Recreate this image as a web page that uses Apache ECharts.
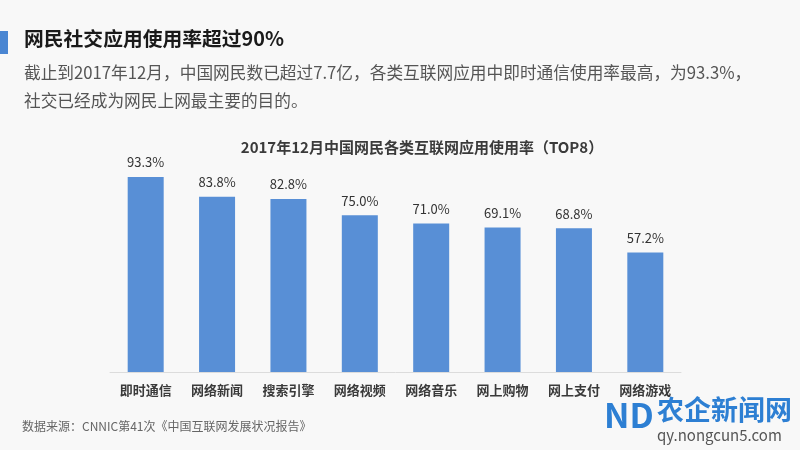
<!DOCTYPE html>
<html><head><meta charset="utf-8">
<script src="https://cdn.jsdelivr.net/npm/echarts@6/dist/echarts.min.js"></script>
<style>html,body{margin:0;padding:0;background:#f8f8f8;}#c{width:800px;height:450px;}</style>
</head><body><div id="c"></div>
<script>
var categories = ['即时通信','网络新闻','搜索引擎','网络视频','网络音乐','网上购物','网上支付','网络游戏'];
var values = [93.3, 83.8, 82.8, 75.0, 71.0, 69.1, 68.8, 57.2];
var FONT = '"Noto Sans CJK SC","Microsoft YaHei",sans-serif';
var chart = echarts.init(document.getElementById('c'));
chart.setOption({
  backgroundColor: '#f8f8f8',
  animation: false,
  textStyle: {fontFamily: FONT},
  title: {
    text: '2017年12月中国网民各类互联网应用使用率（TOP8）',
    left: 417, top: 135, textAlign: 'center',
    textStyle: {fontSize: 15, fontWeight: 'bold', color: '#3a3a3a', fontFamily: FONT}
  },
  grid: {left: 110, right: 119, top: 163, bottom: 78},
  xAxis: {
    type: 'category', data: categories,
    axisLine: {lineStyle: {color: '#dcdcdc'}},
    axisTick: {show: false},
    axisLabel: {fontSize: 13, fontWeight: 'bold', color: '#3a3a3a', margin: 12, fontFamily: FONT}
  },
  yAxis: {type: 'value', min: 0, max: 100, show: false},
  series: [{
    type: 'bar', data: values, barWidth: 36,
    itemStyle: {color: '#588fd6'},
    label: {show: true, position: 'top', distance: 8, fontSize: 13, color: '#333',
      formatter: function(p){return p.value.toFixed(1) + '%';}, fontFamily: FONT}
  }],
  graphic: [
    {type: 'rect', shape: {x: 0, y: 31, width: 8, height: 23}, style: {fill: '#4a86d2'}},
    {type: 'text', left: 24, top: 29, style: {text: '网民社交应用使用率超过90%', font: 'bold 19.8px ' + FONT, fill: '#1a1a1a'}},
    {type: 'text', left: 24, top: 64, style: {text: '截止到2017年12月，中国网民数已超过7.7亿，各类互联网应用中即时通信使用率最高，为93.3%，', font: '16.7px ' + FONT, fill: '#555'}},
    {type: 'text', left: 24, top: 92, style: {text: '社交已经成为网民上网最主要的目的。', font: '16.7px ' + FONT, fill: '#555'}},
    {type: 'text', left: 22, top: 420, style: {text: '数据来源：CNNIC第41次《中国互联网发展状况报告》', font: '12px ' + FONT, fill: '#666'}},
    {type: 'text', left: 657, top: 396, style: {text: '农企新闻网', font: 'bold 27px ' + FONT, fill: '#2d7fd3'}},
    {type: 'text', left: 657, top: 428, style: {text: 'qy.nongcun5.com', font: '15px ' + FONT, fill: '#555'}},
    {type: 'text', left: 604, top: 398, style: {text: 'ND', font: 'bold 34px ' + FONT, fill: '#2d7fd3'}}
  ]
});
</script></body></html>
